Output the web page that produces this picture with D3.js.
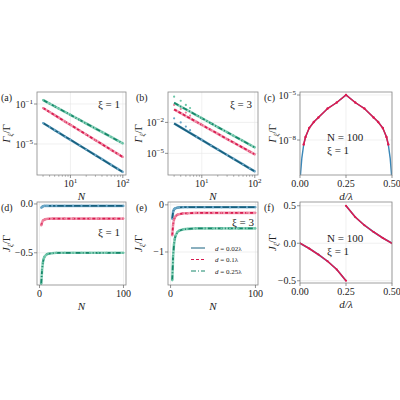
<!DOCTYPE html>
<html><head><meta charset="utf-8">
<script src="https://cdn.jsdelivr.net/npm/d3@7"></script>
<style>body{margin:0;background:#fff}text{font-family:"Liberation Serif","DejaVu Serif",serif;fill:#222}</style>
</head><body><svg id="c" width="400" height="400"></svg>
<script>
// ---- data ----
const seriesNames = ["d = 0.02λ","d = 0.1λ","d = 0.25λ"];
const colors = ["#17607f","#d81b4f","#17876a"];
const markerColors = ["#6aa7c8","#ee7f9c","#6cc6a8"];
const dashes = [null,"3,2","5,2,1,2"];
// (a) xi=1, log10 of Gamma
const Na = [3,4,5,6,8,10,15,20,30,40,60,80,100];
const aBlue  = [-2.9,-3.3,-3.62,-3.87,-4.28,-4.58,-5.15,-5.55,-6.12,-6.52,-7.09,-7.49,-7.8];
const aRed   = [-1.4,-1.8,-2.12,-2.37,-2.78,-3.08,-3.65,-4.05,-4.62,-5.02,-5.59,-5.99,-6.3];
const aGreen = [-0.6,-0.96,-1.23,-1.46,-1.81,-2.09,-2.59,-2.95,-3.45,-3.8,-4.3,-4.66,-4.94];
// (b) xi=3
const bBlue  = [-2.1,-2.48,-2.78,-3.02,-3.4,-3.7,-4.24,-4.62,-5.16,-5.54,-6.08,-6.46,-6.75];
const bRed   = [-0.74,-1.1,-1.38,-1.6,-1.96,-2.24,-2.74,-3.1,-3.61,-3.96,-4.46,-4.82,-5.1];
const bGreen = [-0.1,-0.46,-0.73,-0.95,-1.31,-1.59,-2.09,-2.45,-2.95,-3.3,-3.8,-4.16,-4.43];
const bBlueM  = [-1.6,-2.0,-2.4,-2.75,-3.4,-3.7,-4.24,-4.62,-5.16,-5.54,-6.08,-6.46,-6.75];
const bRedM   = [-0.3,-0.7,-1.05,-1.35,-1.96,-2.24,-2.74,-3.1,-3.61,-3.96,-4.46,-4.82,-5.1];
const bGreenM = [0.5,0.1,-0.3,-0.6,-1.31,-1.59,-2.09,-2.45,-2.95,-3.3,-3.8,-4.16,-4.43];
// (c) N=100 xi=1
const dc = [0.002,0.01,0.02,0.03,0.05,0.075,0.1,0.15,0.2,0.25,0.3,0.35,0.4,0.425,0.45,0.47,0.48,0.49,0.498];
const cLog = [-10.4,-9.2,-8.3,-7.8,-7.2,-6.8,-6.5,-5.9,-5.5,-5.0,-5.5,-5.9,-6.5,-6.8,-7.2,-7.8,-8.3,-9.2,-10.4];
// (d) xi=1
const Nd = [2,3,4,5,6,8,10,15,20,30,40,50,60,70,80,90,100];
const dBlue  = [-0.04,-0.03,-0.025,-0.022,-0.02,-0.02,-0.02,-0.02,-0.02,-0.02,-0.02,-0.02,-0.02,-0.02,-0.02,-0.02,-0.02];
const dRed   = [-0.22,-0.19,-0.17,-0.165,-0.16,-0.155,-0.152,-0.15,-0.15,-0.15,-0.15,-0.15,-0.15,-0.15,-0.15,-0.15,-0.15];
const dGreen = [-0.82,-0.68,-0.6,-0.56,-0.54,-0.52,-0.51,-0.505,-0.5,-0.5,-0.5,-0.5,-0.5,-0.5,-0.5,-0.5,-0.5];
// (e) xi=3
const eBlue  = [-0.3,-0.15,-0.1,-0.08,-0.07,-0.06,-0.055,-0.05,-0.05,-0.05,-0.05,-0.05,-0.05,-0.05,-0.05,-0.05,-0.05];
const eRed   = [-0.65,-0.42,-0.32,-0.27,-0.24,-0.21,-0.2,-0.18,-0.18,-0.17,-0.17,-0.17,-0.17,-0.17,-0.17,-0.17,-0.17];
const eGreen = [-1.6,-1.1,-0.85,-0.72,-0.65,-0.58,-0.55,-0.52,-0.51,-0.5,-0.5,-0.5,-0.5,-0.5,-0.5,-0.5,-0.5];
// (f) N=100 xi=1
const df1 = [0,0.05,0.1,0.15,0.2,0.25];
const fJ1 = [0,-0.07,-0.15,-0.24,-0.35,-0.5];
const df2 = [0.25,0.3,0.35,0.4,0.45,0.5];
const fJ2 = [0.5,0.35,0.24,0.15,0.07,0];

const svg = d3.select("#c");
const sup = {"-1":"−1","-2":"−2","-5":"−5","-8":"−8","1":"1","2":"2"};

function panel(o){
  const g = svg.append("g");
  const x = o.xlog ? d3.scaleLog().domain(o.xd).range([o.x0,o.x1]) : d3.scaleLinear().domain(o.xd).range([o.x0,o.x1]);
  const y = o.ylog ? d3.scaleLog().domain(o.yd).range([o.y1,o.y0]) : d3.scaleLinear().domain(o.yd).range([o.y1,o.y0]);
  o.xt.forEach(t=>g.append("line").attr("x1",x(t)).attr("x2",x(t)).attr("y1",o.y0).attr("y2",o.y1).attr("stroke","#e6e6e6").attr("stroke-width",0.6));
  o.yt.forEach(t=>g.append("line").attr("y1",y(t)).attr("y2",y(t)).attr("x1",o.x0).attr("x2",o.x1).attr("stroke","#e6e6e6").attr("stroke-width",0.6));
  const clip = "clip"+o.id;
  svg.append("clipPath").attr("id",clip).append("rect").attr("x",o.x0).attr("y",o.y0).attr("width",o.x1-o.x0).attr("height",o.y1-o.y0);
  const dg = g.append("g").attr("clip-path",`url(#${clip})`);
  o.series.forEach(s=>{
    const pts = s.xs.map((v,i)=>[x(v), y(s.ys[i])]);
    const mpts = s.ms ? s.xs.map((v,i)=>[x(v), y(s.ms[i])]) : pts;
    if(!s.over) dg.append("path").attr("d",d3.line()(pts)).attr("fill","none").attr("stroke",s.mfill).attr("stroke-width",2.6).attr("stroke-opacity",0.75);
    dg.append("path").attr("d",d3.line()(pts)).attr("fill","none").attr("stroke",s.color).attr("stroke-width",s.w||1.8).attr("stroke-dasharray",s.dash);
    if(s.over) dg.append("path").attr("d",d3.line()(pts.filter((p,i)=>!s.mfilter||s.mfilter(s.xs[i])))).attr("fill","none").attr("stroke",s.over).attr("stroke-width",1.5);
    dg.selectAll(null).data(mpts.filter((p,i)=>!s.mfilter||s.mfilter(s.xs[i]))).enter().append("circle")
      .attr("cx",d=>d[0]).attr("cy",d=>d[1]).attr("r",s.r||1.1).attr("fill",s.mfill);
  });
  g.append("rect").attr("x",o.x0).attr("y",o.y0).attr("width",o.x1-o.x0).attr("height",o.y1-o.y0).attr("fill","none").attr("stroke","#888").attr("stroke-width",0.8);
  o.xt.forEach((t,i)=>{
    g.append("line").attr("x1",x(t)).attr("x2",x(t)).attr("y1",o.y1).attr("y2",o.y1+3).attr("stroke","#666").attr("stroke-width",0.7);
    const tx = g.append("text").attr("x",x(t)).attr("y",o.y1+12).attr("text-anchor","middle").attr("font-size",10);
    if(o.xlog){tx.text("10"); tx.append("tspan").attr("font-size",7).attr("dy",-4).text(sup[o.xe[i]]);}
    else tx.text(o.xl[i]);
  });
  if(o.xminor) o.xminor.forEach(t=>g.append("line").attr("x1",x(t)).attr("x2",x(t)).attr("y1",o.y1).attr("y2",o.y1+1.8).attr("stroke","#666").attr("stroke-width",0.5));
  o.yt.forEach((t,i)=>{
    g.append("line").attr("x1",o.x0-3).attr("x2",o.x0).attr("y1",y(t)).attr("y2",y(t)).attr("stroke","#666").attr("stroke-width",0.7);
    const tx = g.append("text").attr("x",o.x0-4).attr("y",y(t)+3.5).attr("text-anchor","end").attr("font-size",10);
    if(o.ylog){tx.text("10"); tx.append("tspan").attr("font-size",7).attr("dy",-4).text(sup[o.ye[i]]);}
    else tx.text(o.yl[i]);
  });
  g.append("text").attr("x",(o.x0+o.x1)/2).attr("y",o.y1+25).attr("text-anchor","middle").attr("font-size",11).attr("font-style","italic").text(o.xlabel);
  const yl = g.append("text").attr("transform",`translate(${o.ylx},${(o.y0+o.y1)/2}) rotate(-90)`).attr("text-anchor","middle").attr("font-size",11);
  yl.append("tspan").attr("font-style","italic").text(o.ysym);
  yl.append("tspan").attr("font-size",7).attr("dy",2).attr("font-style","italic").text("ξ");
  yl.append("tspan").attr("dy",-2).text("/Γ");
  g.append("text").attr("x",o.lx).attr("y",o.y0+9).attr("font-size",10).text(o.letter);
  (o.notes||[]).forEach(n=>g.append("text").attr("x",n[0]).attr("y",n[1]).attr("font-size",11).attr("text-anchor",n[3]||"start").text(n[2]));
  return {x,y};
}
function mk(xs,arrs,ms,opts){
  return arrs.map((ys,k)=>Object.assign({xs,ys,ms:ms?ms[k]:null,color:colors[k],mfill:markerColors[k],dash:dashes[k]},opts||{}));
}
const p10 = a=>a.map(v=>Math.pow(10,v));
const minorX = [3,4,5,6,7,8,9,20,30,40,50,60,70,80,90];

panel({id:"a",x0:37,x1:126,y0:92,y1:175,xlog:true,xd:[2.3,115],ylog:true,yd:[Math.pow(10,-8.1),Math.pow(10,0.2)],
  xt:[10,100],xe:["1","2"],xminor:minorX,yt:[1e-1,1e-5],ye:["-1","-5"],xlabel:"N",ysym:"Γ",ylx:10,lx:1,letter:"(a)",
  series:mk(Na,[p10(aBlue),p10(aRed),p10(aGreen)]),notes:[[120,108,"ξ = 1","end"]]});
panel({id:"b",x0:168,x1:258,y0:92,y1:175,xlog:true,xd:[2.3,115],ylog:true,yd:[Math.pow(10,-7.1),Math.pow(10,0.95)],
  xt:[10,100],xe:["1","2"],xminor:minorX,yt:[1e-2,1e-5],ye:["-2","-5"],xlabel:"N",ysym:"Γ",ylx:142,lx:136,letter:"(b)",
  series:mk(Na,[p10(bBlue),p10(bRed),p10(bGreen)],[p10(bBlueM),p10(bRedM),p10(bGreenM)]),notes:[[252,108,"ξ = 3","end"]]});
panel({id:"c",x0:300,x1:392,y0:92,y1:175,xd:[0,0.5],ylog:true,yd:[Math.pow(10,-10.33),Math.pow(10,-4.8)],
  xt:[0,0.25,0.5],xl:["0.00","0.25","0.50"],yt:[1e-5,1e-8],ye:["-5","-8"],xlabel:"d/λ",ysym:"Γ",ylx:276,lx:264,letter:"(c)",
  series:[{xs:dc,ys:p10(cLog),color:"#3a87b8",over:"#e0194f",mfill:"#e0194f",r:1.2,w:1.4,mfilter:v=>v>=0.02&&v<=0.48}],
  notes:[[327,141,"N = 100"],[327,154,"ξ = 1"]]});
panel({id:"d",x0:37,x1:126,y0:202,y1:285,xd:[-3,103],yd:[-0.83,0.02],
  xt:[0,100],xl:["0","100"],yt:[0,-0.5],yl:["0.0","−0.5"],xlabel:"N",ysym:"J",ylx:10,lx:1,letter:"(d)",
  series:mk(Nd,[dBlue,dRed,dGreen]),notes:[[120,236,"ξ = 1","end"]]});
panel({id:"e",x0:168,x1:258,y0:202,y1:285,xd:[-3,103],yd:[-1.7,0.06],
  xt:[0,100],xl:["0","100"],yt:[0,-1],yl:["0","−1"],xlabel:"N",ysym:"J",ylx:142,lx:136,letter:"(e)",
  series:mk(Nd,[eBlue,eRed,eGreen]),notes:[[254,226,"ξ = 3","end"]]});
panel({id:"f",x0:300,x1:392,y0:202,y1:283,xd:[0,0.5],yd:[-0.53,0.55],
  xt:[0,0.25,0.5],xl:["0.00","0.25","0.50"],yt:[0.5,0,-0.5],yl:["0.5","0.0","−0.5"],xlabel:"d/λ",ysym:"J",ylx:276,lx:264,letter:"(f)",
  series:[{xs:df1,ys:fJ1,color:"#3a87b8",over:"#e0194f",mfill:"#e0194f",r:1.1,w:1.6},{xs:df2,ys:fJ2,color:"#3a87b8",over:"#e0194f",mfill:"#e0194f",r:1.1,w:1.6}],
  notes:[[327,242,"N = 100"],[327,255,"ξ = 1"]]});
// legend in (e)
const lg = svg.append("g");
seriesNames.forEach((n,k)=>{
  const yy = 248+k*11.5;
  lg.append("line").attr("x1",191).attr("x2",205).attr("y1",yy).attr("y2",yy).attr("stroke",colors[k]).attr("stroke-width",1).attr("stroke-dasharray",dashes[k]);
  const t = lg.append("text").attr("x",215).attr("y",yy+2.5).attr("font-size",7);
  t.append("tspan").attr("font-style","italic").text("d");
  t.append("tspan").text(n.slice(1));
});
</script></body></html>
